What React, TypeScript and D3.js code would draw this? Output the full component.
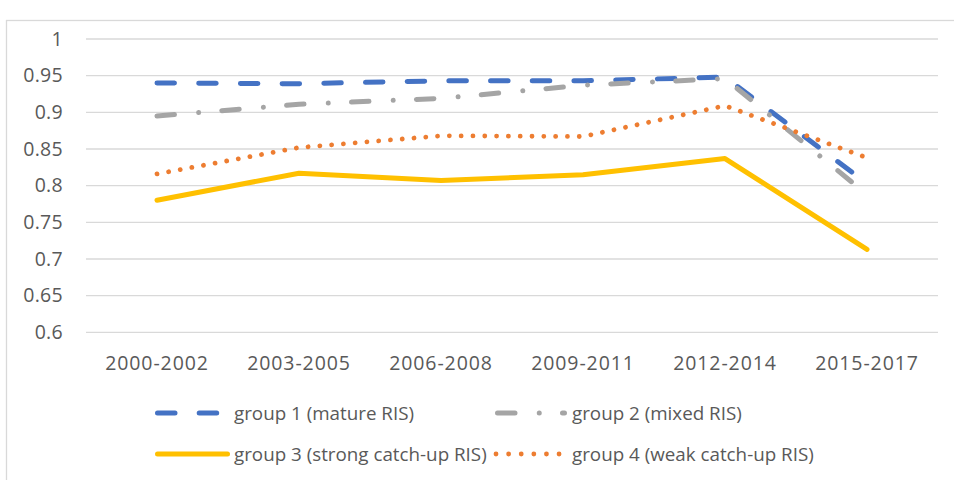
import React from "react";
import * as d3 from "d3";

const categories = ["2000-2002", "2003-2005", "2006-2008", "2009-2011", "2012-2014", "2015-2017"];
const group1 = [0.940, 0.939, 0.943, 0.943, 0.948, 0.803];
const group2 = [0.895, 0.911, 0.919, 0.937, 0.946, 0.788];
const group3 = [0.780, 0.817, 0.807, 0.815, 0.837, 0.713];
const group4 = [0.816, 0.852, 0.868, 0.867, 0.909, 0.838];
const yTicks = [0.6, 0.65, 0.7, 0.75, 0.8, 0.85, 0.9, 0.95, 1];
const seriesNames = [
  "group 1 (mature RIS)",
  "group 2 (mixed RIS)",
  "group 3 (strong catch-up RIS)",
  "group 4 (weak catch-up RIS)",
];

const W = 954;
const H = 480;
const FONT = "'Open Sans', 'Noto Sans', sans-serif";
const TXT = "#595959";

const styles = [
  { color: "#4472C4", width: 5, dash: "17.5 24.2", cap: "round" },
  { color: "#A5A5A5", width: 5, dash: "17.5 24.25 0.01 23.24", cap: "round" },
  { color: "#FFC000", width: 5, dash: null, cap: "round" },
  { color: "#ED7D31", width: 4.8, dash: "0.01 11.8", cap: "round" },
];

export default function App() {
  const x = d3.scaleBand<string>().domain(categories).range([86, 938]);
  const y = d3.scaleLinear().domain([0.6, 1]).range([332.3, 39]);
  const cx = (c: string) => (x(c) as number) + x.bandwidth() / 2;
  const line = d3
    .line<number>()
    .x((_, i) => cx(categories[i]))
    .y((d) => y(d));
  const data = [group1, group2, group3, group4];

  const legend = [
    { lx: 157.5, ly: 413, tx: 234 },
    { lx: 497.5, ly: 413, tx: 572 },
    { lx: 157.5, ly: 454, tx: 234 },
    { lx: 496, ly: 454, tx: 572 },
  ];
  const legendLen = [69, 67, 70, 63.5];

  return (
    <svg
      width={W}
      height={H}
      style={{ position: "absolute", left: 0, top: 0, background: "#fff" }}
      fontFamily={FONT}
    >
      <rect x={0} y={0} width={W} height={H} fill="#fff" />
      <rect x={6.5} y={20.5} width={W + 20} height={H + 20} fill="none" stroke="#d9d9d9" strokeWidth={1.3} />
      {yTicks.map((t) => (
        <g key={t}>
          <line x1={86} x2={938} y1={y(t)} y2={y(t)} stroke="#d9d9d9" strokeWidth={1.3} />
          <text x={63} y={y(t)} dy="0.35em" textAnchor="end" fontSize={19.5} letterSpacing={0.3} fill={TXT}>
            {String(t)}
          </text>
        </g>
      ))}
      {categories.map((c) => (
        <text key={c} x={cx(c)} y={363} dy="0.35em" textAnchor="middle" fontSize={19.5} letterSpacing={0.9} fill={TXT}>
          {c}
        </text>
      ))}
      {data.map((vals, i) => (
        <path
          key={i}
          d={line(vals) as string}
          fill="none"
          stroke={styles[i].color}
          strokeWidth={styles[i].width}
          strokeDasharray={styles[i].dash ?? undefined}
          strokeLinecap={styles[i].cap as any}
          strokeLinejoin="round"
        />
      ))}
      {legend.map((l, i) => (
        <g key={i}>
          <line
            x1={l.lx}
            x2={l.lx + legendLen[i]}
            y1={l.ly}
            y2={l.ly}
            stroke={styles[i].color}
            strokeWidth={styles[i].width}
            strokeDasharray={i === 3 ? "0.01 12.6" : styles[i].dash ?? undefined}
            strokeLinecap="round"
          />
          <text x={l.tx} y={l.ly} dy="0.35em" fontSize={18.8} fill={TXT}>
            {seriesNames[i]}
          </text>
        </g>
      ))}
    </svg>
  );
}
